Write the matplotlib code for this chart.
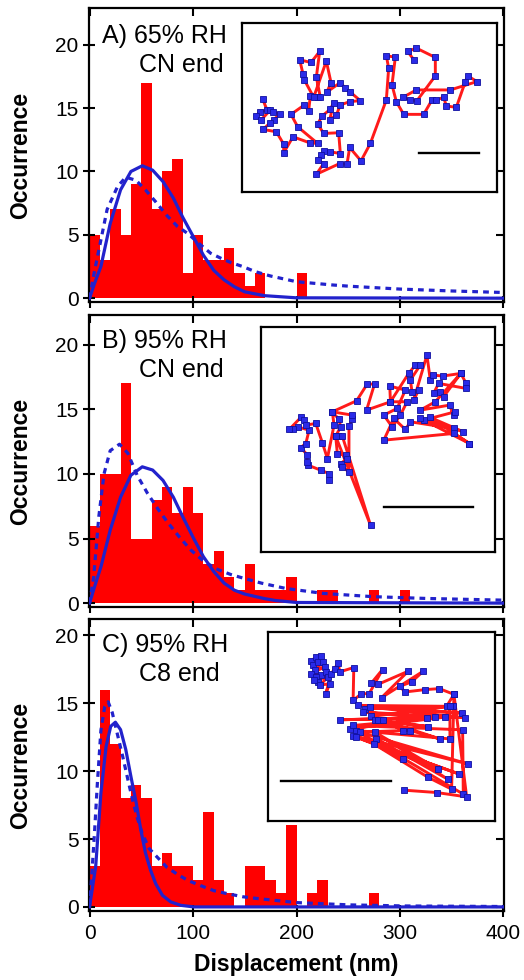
import numpy as np
import matplotlib
matplotlib.use('Agg')
import matplotlib.pyplot as plt

plt.rcParams['font.family'] = ['Liberation Sans', 'DejaVu Sans']

# histogram counts, 10 nm bins starting at 0
bin_w = 10
counts_A = [5, 3, 7, 5, 9, 17, 7, 10, 11, 2, 5, 3, 3, 4, 2, 1, 2, 0, 0, 0, 2]
counts_B = [6, 10, 10, 17, 5, 5, 8, 9, 7, 9, 7, 3, 4, 2, 1, 3, 1, 1, 1, 2,
            0, 0, 1, 1, 0, 0, 0, 1, 0, 0, 1]
counts_C = [3, 16, 12, 8, 9, 8, 3, 4, 3, 3, 2, 7, 2, 1, 0, 3, 3, 2, 1, 6,
            0, 1, 2, 0, 0, 0, 0, 1]

# fit curves (nm, occurrence)
solA_x = [0, 5, 11, 20, 30, 40, 51, 61, 71, 81, 90, 100, 110, 120, 130, 140, 150, 169, 200, 400]
solA_y = [0, 1.2, 2.5, 5.9, 8.55, 10.0, 10.45, 10.1, 9.2, 7.9, 6.4, 4.9, 3.4, 2.2, 1.45, 0.9, 0.5, 0.2, 0.03, 0]
dashA_x = [0, 4, 9, 17, 27, 35, 45, 54, 64, 75, 85, 95, 106, 117, 127, 137, 148, 160, 175, 200, 234, 250, 300, 350, 400]
dashA_y = [0, 1.8, 3.8, 7.0, 8.8, 9.55, 9.3, 8.55, 7.6, 6.5, 5.66, 5.1, 4.3, 3.55, 3.15, 2.8, 2.5, 2.1, 1.75, 1.3, 1.05, 0.95, 0.72, 0.57, 0.45]

solB_x = [0, 5, 11, 20, 30, 40, 51, 61, 71, 81, 90, 100, 110, 120, 130, 140, 150, 169, 180, 200, 400]
solB_y = [0, 1.3, 2.8, 5.65, 8.2, 9.9, 10.55, 10.3, 9.5, 8.2, 6.7, 5.1, 3.6, 2.45, 1.55, 1.0, 0.7, 0.35, 0.2, 0.05, 0]
dashB_x = [0, 4, 9, 14, 20, 29, 37, 46, 56, 66, 75, 87, 98, 111, 124, 137, 150, 157, 166, 190, 226, 274, 326, 400]
dashB_y = [0, 2.0, 6.7, 10.0, 11.8, 12.3, 11.6, 9.9, 8.5, 7.3, 6.3, 5.1, 4.1, 3.2, 2.6, 2.2, 1.9, 1.75, 1.55, 1.13, 0.75, 0.5, 0.36, 0.23]

solC_x = [0, 6, 11, 16, 20.5, 25, 30, 35, 40, 45, 49.5, 54, 59, 64, 70.5, 78.5, 88, 101, 400]
solC_y = [0, 3.0, 8.4, 11.8, 13.3, 13.6, 13.05, 11.6, 9.6, 7.7, 5.7, 4.0, 2.7, 1.7, 0.85, 0.37, 0.12, 0, 0]
dashC_x = [0, 3, 5, 7.6, 11, 14.7, 18, 22, 27, 32, 37, 41.5, 46, 51, 57.6, 65.6, 75, 85, 95, 108,
           120, 133, 148, 162, 200, 251, 306, 400]
dashC_y = [0, 3.3, 5.7, 9.1, 13.0, 14.75, 15.1, 14.3, 12.7, 11.1, 9.4, 7.9, 6.6, 5.4, 4.3, 3.65, 2.9, 2.4, 1.95, 1.55,
           1.2, 0.98, 0.75, 0.62, 0.32, 0.15, 0.07, 0.03]

# trajectories shown in the insets (image units, y down)
trajA = [(97, 237), (110, 270), (88, 275), (78, 288), (92, 300), (120, 270), (128, 275), (148, 282),
         (130, 300), (118, 310), (98, 328), (138, 335), (160, 372), (160, 398), (188, 350), (238, 368),
         (262, 370), (202, 320), (182, 283), (222, 255), (235, 272), (240, 228), (262, 232), (270, 232),
         (258, 172), (268, 95), (242, 128), (208, 120), (218, 162), (222, 180), (250, 232), (288, 124),
         (302, 188), (290, 216), (330, 188), (345, 205), (358, 215), (390, 242), (358, 245), (330, 255),
         (318, 285), (298, 300), (310, 248), (300, 268), (275, 288), (262, 312), (280, 340), (325, 338),
         (330, 400), (300, 395), (282, 393), (272, 405), (262, 420), (280, 430), (258, 462), (328, 430),
         (350, 432), (358, 382), (392, 422), (420, 370), (468, 240), (475, 145), (468, 108), (495, 112),
         (485, 195), (498, 245), (520, 283), (580, 283), (605, 240), (618, 240), (640, 232), (648, 258),
         (678, 262), (705, 185), (712, 168), (740, 185), (660, 210), (558, 210), (518, 232), (540, 240),
         (560, 242), (615, 168), (615, 113), (558, 85), (532, 95), (552, 122)]
scaleA = [(565, 398), (745, 398)]

trajB = [(235, 450), (235, 430), (210, 420), (172, 405), (168, 395), (170, 375), (150, 352), (165, 340),
         (175, 300), (140, 290), (125, 298), (115, 298), (150, 262), (160, 270), (165, 285), (195, 280),
         (215, 338), (230, 385), (250, 285), (245, 245), (265, 268), (270, 290), (255, 318), (262, 318),
         (275, 318), (360, 585), (255, 318), (260, 370), (285, 375), (290, 385), (270, 400), (275, 410),
         (295, 425), (295, 288), (305, 268), (305, 255), (245, 245), (318, 212), (350, 162), (372, 162),
         (348, 240), (420, 215), (418, 168), (465, 180), (440, 235), (400, 255), (425, 290), (450, 255),
         (470, 215), (420, 215), (475, 130), (495, 105), (510, 105), (480, 150), (485, 185), (505, 180),
         (490, 210), (530, 75), (540, 150), (548, 135), (578, 138), (632, 130), (648, 160), (648, 175),
         (565, 160), (550, 190), (570, 185), (580, 200), (632, 130), (555, 215), (510, 240), (598, 225),
         (610, 255), (615, 245), (520, 270), (658, 340), (540, 262), (640, 305), (510, 265), (610, 295),
         (480, 275), (465, 298), (430, 265), (400, 330), (610, 310), (658, 340)]
scaleB = [(400, 531), (670, 531)]

trajC = [(185, 62), (200, 50), (213, 48), (190, 75), (205, 65), (220, 65), (195, 90), (225, 80),
         (185, 100), (215, 105), (200, 110), (230, 95), (205, 125), (192, 120), (235, 110), (210, 135),
         (240, 130), (228, 160), (245, 100), (255, 85), (265, 68), (270, 95), (312, 82), (310, 180),
         (335, 160), (358, 160), (398, 88), (365, 128), (385, 132), (475, 93), (395, 172), (520, 93),
         (485, 125), (450, 138), (465, 155), (525, 148), (568, 145), (612, 162), (590, 198), (345, 205),
         (610, 198), (325, 195), (635, 218), (360, 200), (645, 232), (340, 215), (530, 232), (270, 238),
         (555, 230), (300, 265), (585, 230), (310, 255), (638, 268), (640, 460), (320, 270), (600, 295),
         (600, 198), (365, 228), (570, 295), (375, 240), (535, 258), (385, 240), (480, 272), (400, 240),
         (460, 270), (330, 275), (655, 370), (310, 285), (628, 400), (320, 290), (565, 385), (375, 275),
         (593, 415), (380, 295), (460, 355), (372, 310), (535, 410), (605, 445), (612, 162), (650, 468),
         (560, 455), (462, 448)]
scaleC = [(95, 420), (422, 420)]

labels = [("A) 65% RH", "CN end"), ("B) 95% RH", "CN end"), ("C) 95% RH", "C8 end")]

W, H = 524, 980
fig = plt.figure(figsize=(W / 100, H / 100), dpi=100)

def fbox(x0, y0, x1, y1):
    return [x0 / W, 1 - y1 / H, (x1 - x0) / W, (y1 - y0) / H]

frames = [(89, 8, 504, 302), (89, 315, 504, 607), (89, 619, 504, 911)]
ylims = [(-0.3, 22.9), (-0.3, 22.3), (-0.3, 21.2)]
inset_boxes = [(242, 23, 497, 192), (261, 327, 495, 552), (268, 632, 495, 821)]
inset_lims = [((35, 800), (515, 10)), ((30, 735), (665, -9)), ((55, 735), (540, -24))]
label_pos = [((102, 43), (139, 72)), ((102, 348), (139, 377)), ((102, 652), (139, 681))]

data = [(counts_A, solA_x, solA_y, dashA_x, dashA_y, trajA, scaleA),
        (counts_B, solB_x, solB_y, dashB_x, dashB_y, trajB, scaleB),
        (counts_C, solC_x, solC_y, dashC_x, dashC_y, trajC, scaleC)]

red = '#ff0000'
blue = '#2222cc'

for i, (counts, sx, sy, dx, dy, traj, scale) in enumerate(data):
    ax = fig.add_axes(fbox(*frames[i]))
    edges = np.arange(len(counts)) * bin_w
    ax.bar(edges, counts, width=bin_w, align='edge', color=red, linewidth=0, zorder=1)
    ax.plot(sx, sy, color=blue, lw=2.3, zorder=3, solid_joinstyle='round')
    ax.plot(dx, dy, color=blue, lw=2.3, ls=(0, (1.8, 1.6)), zorder=3)
    ax.set_xlim(-0.5, 400.5)
    ax.set_ylim(*ylims[i])
    ax.set_xticks([0, 100, 200, 300, 400])
    ax.set_yticks([0, 5, 10, 15, 20])
    for s in ax.spines.values():
        s.set_linewidth(1.6)
    ax.tick_params(axis='both', which='major', direction='inout', length=9, width=1.5,
                   labelsize=15, pad=3)
    ax.tick_params(axis='x', pad=5)
    ax.tick_params(top=True, right=True, labeltop=False, labelright=False)
    # top/right ticks point inward only
    for t in ax.xaxis.get_major_ticks():
        t.tick2line.set_markersize(6)
        t.tick2line.set_marker(3)
    for t in ax.yaxis.get_major_ticks():
        t.tick2line.set_markersize(6)
        t.tick2line.set_marker(0)
    if i < 2:
        ax.set_xticklabels([])
    else:
        ax.set_xlabel('Displacement (nm)', fontsize=16.5, fontweight='bold', labelpad=7)
    ax.set_ylabel('Occurrence', fontsize=16.5, fontweight='bold')
    ax.yaxis.set_label_coords(-0.138, 0.5)

    (x1, y1), (x2, y2) = label_pos[i]
    fig.text(x1 / W, 1 - y1 / H, labels[i][0], fontsize=18, va='baseline', ha='left')
    fig.text(x2 / W, 1 - y2 / H, labels[i][1], fontsize=18, va='baseline', ha='left')

    ins = fig.add_axes(fbox(*inset_boxes[i]))
    tx = [p[0] for p in traj]
    ty = [p[1] for p in traj]
    ins.plot(tx, ty, color='#ff1a1a', lw=2.1, zorder=1)
    ins.plot(tx, ty, ls='none', marker='s', ms=4.8, mfc='#2a2ae8', mec='#1010a0', mew=0.6, zorder=2)
    ins.plot([scale[0][0], scale[1][0]], [scale[0][1], scale[1][1]], color='black', lw=1.7)
    ins.set_xlim(*inset_lims[i][0])
    ins.set_ylim(*inset_lims[i][1])
    ins.set_xticks([])
    ins.set_yticks([])
    for s in ins.spines.values():
        s.set_linewidth(1.6)

fig.savefig('out.png', dpi=100)
